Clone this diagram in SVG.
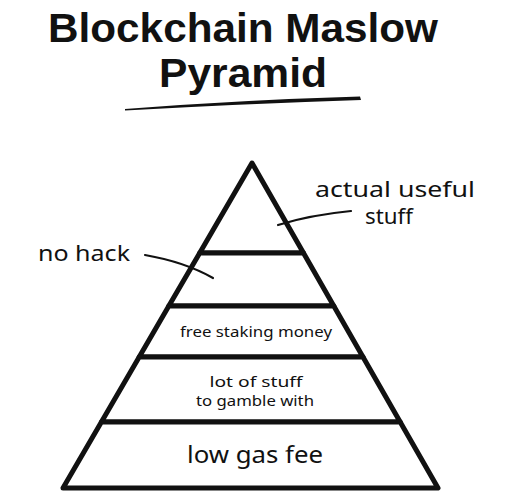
<svg xmlns="http://www.w3.org/2000/svg" width="508" height="500" viewBox="0 0 508 500">
<style>
.t{font-family:"Noto Sans","DejaVu Sans",sans-serif;fill:#111;}
.title{font-family:"Liberation Sans","Noto Sans",sans-serif;font-weight:bold;font-size:40px;}
.lbl{font-size:21px;}
.tier{fill:#fff;stroke:#111;stroke-width:5;stroke-linejoin:round;}
.lead{fill:none;stroke:#111;stroke-width:2.2;stroke-linecap:round;}
</style>
<rect width="508" height="500" fill="#fff"/>
<g id="title">
<text class="t title" x="243" y="42" text-anchor="middle" textLength="390" lengthAdjust="spacingAndGlyphs">Blockchain Maslow</text>
<text class="t title" x="243" y="87" text-anchor="middle" textLength="168" lengthAdjust="spacingAndGlyphs">Pyramid</text>
<path d="M125,109 Q240,100 360,96.5 L361,100 Q240,104 125,110.5 Z" fill="#111"/>
</g>
<g id="tier5">
<polygon class="tier" points="252,163 303.5,253 199.7,253"/>
</g>
<g id="tier4">
<polygon class="tier" points="199.7,253 303.5,253 333.8,306 168.8,306"/>
</g>
<g id="tier3">
<polygon class="tier" points="168.8,306 333.8,306 363,357 139.2,357"/>
<text class="t" x="256" y="337" font-size="15" text-anchor="middle" textLength="152" lengthAdjust="spacingAndGlyphs">free staking money</text>
</g>
<g id="tier2">
<polygon class="tier" points="139.2,357 363,357 400.2,422 101.4,422"/>
<text class="t" x="256" y="386.5" font-size="13.5" text-anchor="middle" textLength="93" lengthAdjust="spacingAndGlyphs">lot of stuff</text>
<text class="t" x="255" y="405.5" font-size="13.5" text-anchor="middle" textLength="118" lengthAdjust="spacingAndGlyphs">to gamble with</text>
</g>
<g id="tier1">
<polygon class="tier" points="101.4,422 400.2,422 438,488 63,488"/>
<text class="t" x="255" y="463" font-size="24" text-anchor="middle" textLength="136" lengthAdjust="spacingAndGlyphs">low gas fee</text>
</g>
<g id="label-useful">
<text class="t lbl" x="395" y="197" text-anchor="middle" textLength="160" lengthAdjust="spacingAndGlyphs">actual useful</text>
<text class="t lbl" x="389" y="224" text-anchor="middle" textLength="48" lengthAdjust="spacingAndGlyphs">stuff</text>
</g>
<g id="label-nohack">
<text class="t lbl" x="38" y="261" textLength="92" lengthAdjust="spacingAndGlyphs">no hack</text>
</g>
<g id="connectors">
<path class="lead" d="M278,225 Q310,215 351,211"/>
<path class="lead" d="M145,255 Q185,262 213,278"/>
</g>
</svg>
